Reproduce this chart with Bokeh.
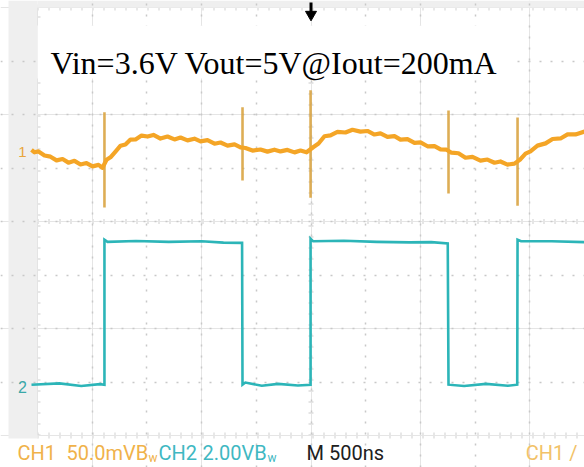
from bokeh.plotting import figure
from bokeh.models import Range1d, Grid, FixedTicker, Label, BoxAnnotation
from bokeh.embed import file_html
from bokeh.resources import INLINE

# ---- scope settings ----
TIME_PER_DIV_US = 0.5
CH1_MV_PER_DIV = 50.0
CH2_V_PER_DIV = 2.0
CH1_OFFSET_DIV = 1.29
CH2_OFFSET_DIV = -3.1
H_DIVS = 10
V_DIVS = 8

title_text = "Vin=3.6V Vout=5V@Iout=200mA"

# ---- CH1: output ripple (mV, AC coupled) ----
ch1_t = [-2.555, -2.527, -2.491, -2.436, -2.381, -2.326, -2.271, -2.217, -2.162, -2.107,
         -2.052, -1.997, -1.942, -1.906, -1.869, -1.833, -1.787, -1.741, -1.696, -1.650,
         -1.604, -1.549, -1.494, -1.440, -1.376, -1.312, -1.248, -1.193, -1.129, -1.065,
         -1.010, -0.946, -0.882, -0.827, -0.763, -0.699, -0.644, -0.599, -0.535, -0.462,
         -0.398, -0.334, -0.279, -0.215, -0.151, -0.096, -0.041, 0.023, 0.069, 0.123,
         0.178, 0.242, 0.315, 0.379, 0.452, 0.516, 0.580, 0.635, 0.699, 0.763,
         0.818, 0.882, 0.946, 1.001, 1.065, 1.129, 1.184, 1.239, 1.284, 1.348,
         1.412, 1.476, 1.549, 1.613, 1.677, 1.732, 1.796, 1.860, 1.915, 1.961,
         2.006, 2.070, 2.144, 2.208, 2.281, 2.345, 2.418, 2.500]
ch1_mv = [2.5, 0.2, 1.0, -2.8, -3.9, -7.4, -6.1, -9.5, -7.8, -11.2,
          -9.9, -13.0, -11.6, -14.2, -6.8, -4.5, 0.9, 6.3, 7.5, 12.1,
          12.2, 15.8, 14.9, 16.4, 13.0, 14.9, 12.2, 14.0, 11.3, 12.9,
          10.4, 11.5, 8.2, 9.3, 6.4, 7.6, 4.7, 4.2, 1.8, 2.8,
          0.8, 2.6, 1.0, 2.4, 0.1, 1.8, 0.2, 5.1, 8.4, 15.2,
          16.0, 19.3, 18.7, 21.2, 19.5, 20.1, 16.8, 17.9, 14.6, 15.3,
          12.0, 12.5, 8.9, 9.4, 5.8, 6.0, 2.9, 2.6, -0.2, -0.7,
          -4.9, -4.1, -7.6, -6.6, -9.6, -8.4, -11.3, -10.4, -6.3, -1.0,
          1.1, 6.4, 8.5, 12.6, 13.1, 16.9, 16.9, 19.5]

# switching spikes on CH1
spike_t = [-1.888, -0.626, -0.004, 1.257, 1.888]
spike_top_mv = [37.5, 42.2, 58.1, 39.3, 32.8]
spike_bot_mv = [-51.5, -26.2, -42.2, -38.4, -49.7]

# ---- CH2: switch node (V) ----
ch2_t = [-2.555, -2.3, -2.1, -1.93, -1.888, -1.888, -1.86, -1.6, -1.3, -1.0,
         -0.8, -0.63, -0.626, -0.6, -0.45, -0.3, -0.12, -0.004, -0.004, 0.02,
         0.3, 0.6, 0.9, 1.1, 1.25, 1.257, 1.4, 1.6, 1.8, 1.885,
         1.888, 1.92, 2.2, 2.5]
ch2_v = [0.1, 0.15, 0.05, 0.12, 0.1, 5.52, 5.44, 5.47, 5.44, 5.46,
         5.41, 5.40, 0.1, 0.18, 0.06, 0.13, 0.07, 0.1, 5.56, 5.46,
         5.48, 5.44, 5.42, 5.43, 5.38, 0.1, 0.05, 0.13, 0.06, 0.1,
         5.52, 5.46, 5.46, 5.43]

# ---- status bar ----
status_texts = ["CH1", "50.0mVB", "w", "CH2", "2.00VB", "w", "M 500ns", "CH1  /"]
status_colors = ["#f0b24a", "#f0b24a", "#f0b24a", "#3fb8c2", "#3fb8c2", "#3fb8c2", "#202020", "#f2c268"]

# ---- layout (pixels) ----
W, H = 584, 467
GRAT_LEFT, GRAT_TOP, GRAT_BOTTOM = 37, 7, 435
px_per_us = (W - GRAT_LEFT) / (H_DIVS * TIME_PER_DIV_US)
px_per_div = (GRAT_BOTTOM - GRAT_TOP) / V_DIVS
t_left = -H_DIVS / 2 * TIME_PER_DIV_US
t_right = H_DIVS / 2 * TIME_PER_DIV_US


def tx(px):
    return t_left + (px - GRAT_LEFT) / px_per_us


def dy(py):
    return V_DIVS / 2 - (py - GRAT_TOP) / px_per_div


p = figure(width=W, height=H, output_backend="svg", toolbar_location=None,
           x_axis_location=None, y_axis_location=None,
           x_range=Range1d(tx(0), tx(W)), y_range=Range1d(dy(H), dy(0)),
           min_border=0, min_border_left=0, min_border_right=0,
           min_border_top=0, min_border_bottom=0)
p.outline_line_color = None
p.background_fill_color = "white"
p.border_fill_color = "white"

# left and top bezel
p.add_layout(BoxAnnotation(left=tx(8), right=t_left, bottom=dy(438), top=dy(0),
                           fill_color="#efefef", fill_alpha=1, line_color=None, level="underlay"))
p.add_layout(BoxAnnotation(left=t_left, right=t_right, bottom=dy(GRAT_TOP), top=dy(0),
                           fill_color="#efefef", fill_alpha=1, line_color=None, level="underlay"))

# graticule
vt = [t_left + i * TIME_PER_DIV_US for i in range(1, H_DIVS)]
hd = [i - V_DIVS / 2 for i in range(1, V_DIVS)]
p.add_layout(Grid(dimension=0, ticker=FixedTicker(ticks=vt), bounds=(-V_DIVS / 2, V_DIVS / 2),
                  grid_line_color="#c8c8c8", grid_line_dash="2 9", grid_line_width=1.5))
p.add_layout(Grid(dimension=1, ticker=FixedTicker(ticks=hd), bounds=(t_left, t_right),
                  grid_line_color="#c8c8c8", grid_line_dash="2 9", grid_line_width=1.5))
# centre axes with minor ticks
p.segment(x0=[0, t_left], y0=[-V_DIVS / 2, 0], x1=[0, t_right], y1=[V_DIVS / 2, 0],
          line_color="#cccccc", line_width=5, line_dash="1 10", level="underlay")
# border ticks
p.segment(x0=[t_left, t_left, t_left], y0=[-V_DIVS / 2, V_DIVS / 2, -V_DIVS / 2],
          x1=[t_left, t_right, t_right], y1=[V_DIVS / 2, V_DIVS / 2, -V_DIVS / 2],
          line_color="#d0d0d0", line_width=6, line_dash="1 10", level="underlay")
p.segment(x0=[t_left, t_left], y0=[-V_DIVS / 2, -V_DIVS / 2],
          x1=[t_left, t_right], y1=[V_DIVS / 2, -V_DIVS / 2],
          line_color="#d8d8d8", line_width=1, level="underlay")

# traces
ch2_y = [CH2_OFFSET_DIV + v / CH2_V_PER_DIV for v in ch2_v]
p.line(ch2_t, ch2_y, line_color="#2cb5b8", line_width=2.6, line_join="miter")

ch1_y = [CH1_OFFSET_DIV + mv / CH1_MV_PER_DIV for mv in ch1_mv]
p.segment(x0=spike_t, x1=spike_t,
          y0=[CH1_OFFSET_DIV + m / CH1_MV_PER_DIV for m in spike_bot_mv],
          y1=[CH1_OFFSET_DIV + m / CH1_MV_PER_DIV for m in spike_top_mv],
          line_color="#d9a443", line_width=2.6, line_alpha=0.9)
p.line(ch1_t, ch1_y, line_color="#f4a526", line_width=4.2, line_join="round")

# channel markers
p.add_layout(Label(x=tx(22), y=CH1_OFFSET_DIV, text="1", text_color="#e9a63c",
                   text_font="Liberation Sans", text_font_size="15px",
                   text_align="center", text_baseline="middle"))
p.add_layout(Label(x=tx(22), y=CH2_OFFSET_DIV, text="2", text_color="#3aa8a8",
                   text_font="Liberation Sans", text_font_size="16px",
                   text_align="center", text_baseline="middle"))

# trigger position arrow
p.segment(x0=[0], y0=[dy(2)], x1=[0], y1=[dy(12)], line_color="black", line_width=3)
p.scatter([0], [dy(14)], marker="inverted_triangle", size=11, fill_color="black", line_color="black")

# title box
p.add_layout(BoxAnnotation(left=t_left, right=tx(514), bottom=dy(78), top=dy(25),
                           fill_color="white", fill_alpha=1, line_color=None))
p.add_layout(Label(x=tx(50), y=dy(62), text=title_text, text_color="black",
                   text_font="Liberation Serif", text_font_size="32px",
                   text_baseline="alphabetic", text_align="left"))

# status bar
status_px = [17, 66, 148, 158, 202, 267, 306, 582]
status_py = [452, 452, 457, 452, 452, 457, 452, 452]
status_size = ["20px", "20px", "12px", "20px", "20px", "12px", "20px", "20px"]
status_align = ["left"] * 7 + ["right"]
for s, c, xp, yp, fs, al in zip(status_texts, status_colors, status_px, status_py,
                                 status_size, status_align):
    p.add_layout(Label(x=tx(xp), y=dy(yp), text=s, text_color=c,
                       text_font="Roboto", text_font_size=fs,
                       text_align=al, text_baseline="middle"))

open("out.html", "w").write(file_html(p, INLINE))
